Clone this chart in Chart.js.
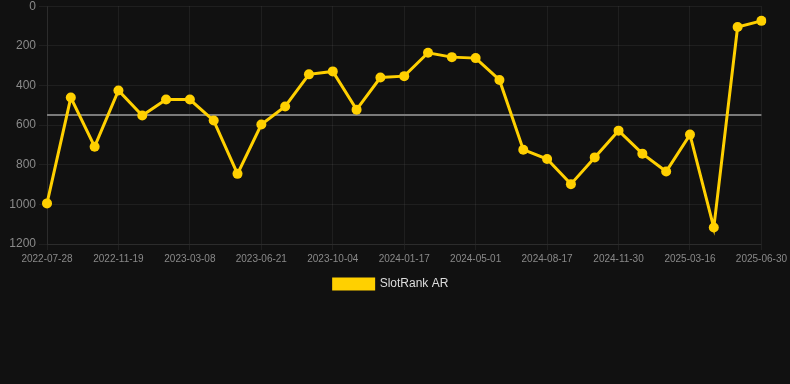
<!DOCTYPE html>
<html>
<head>
<meta charset="utf-8">
<script src="https://cdn.jsdelivr.net/npm/chart.js@4"></script>
<style>
  html, body { margin: 0; padding: 0; background: #111111; overflow: hidden; }
  #wrap { width: 790px; height: 304px; position: relative; margin-top: -4px; }
</style>
</head>
<body>
<div id="wrap"><canvas id="myChart"></canvas></div>
<script>
const dates = [
    "2022-07-28", "2022-09-05", "2022-10-12", "2022-11-19", "2022-12-25", "2023-01-31",
    "2023-03-08", "2023-04-12", "2023-05-17", "2023-06-21", "2023-07-26", "2023-08-30",
    "2023-10-04", "2023-11-08", "2023-12-13", "2024-01-17", "2024-02-21", "2024-03-27",
    "2024-05-01", "2024-06-06", "2024-07-12", "2024-08-17", "2024-09-21", "2024-10-26",
    "2024-11-30", "2025-01-04", "2025-02-09", "2025-03-16", "2025-04-20", "2025-05-25",
    "2025-06-30"
];
const rankValues = [
    995, 461, 709, 425, 552, 471, 471, 577, 846, 597,
    506, 344, 329, 522, 360, 353, 235, 257, 262, 372,
    724, 771, 898, 763, 628, 744, 834, 648, 1117, 105,
    74
];
const averageRank = 549;
const yTicks = [0, 200, 400, 600, 800, 1000, 1200];

const tickColor = '#8a8a8a';
const gridColor = 'rgba(255, 255, 255, 0.06)';

function showRankChart() {
    const ctx = document.getElementById('myChart').getContext('2d');
    new Chart(ctx, {
        type: 'line',
        data: {
            labels: dates,
            datasets: [{
                label: 'SlotRank AR',
                data: rankValues,
                borderColor: '#FFD000',
                backgroundColor: '#FFD000',
                borderWidth: 3,
                pointRadius: 5,
                pointBorderWidth: 0,
                pointBackgroundColor: '#FFD000',
                tension: 0
            }, {
                label: 'Average',
                data: dates.map(() => averageRank), // flat average line
                borderColor: '#7a7a7a',
                borderWidth: 2,
                pointRadius: 0,
                tension: 0
            }]
        },
        options: {
            responsive: true,
            maintainAspectRatio: false,
            animation: false,
            layout: {
                padding: { left: 0, right: 8, top: 0, bottom: 0 }
            },
            scales: {
                x: {
                    offset: false,
                    grid: {
                        tickLength: 6,
                        // only every third category gets a grid line
                        color: c => (c.index % 3 === 0 ? gridColor : 'rgba(0,0,0,0)')
                    },
                    border: { color: gridColor },
                    ticks: {
                        autoSkip: false,
                        maxRotation: 0,
                        color: tickColor,
                        font: { size: 10, family: 'Liberation Sans, Arial, sans-serif' },
                        callback: function (value, index) {
                            return index % 3 === 0 ? dates[index] : '';
                        }
                    }
                },
                y: {
                    reverse: true,
                    min: yTicks[0],
                    max: yTicks[yTicks.length - 1],
                    grid: { color: gridColor },
                    border: { color: gridColor },
                    afterBuildTicks: function (axis) {
                        axis.ticks = yTicks.map(v => ({ value: v }));
                    },
                    afterFit: function (axis) {
                        axis.width = 47;
                    },
                    ticks: {
                        color: tickColor,
                        font: { size: 12, family: 'Liberation Sans, Arial, sans-serif' },
                        callback: v => String(v)
                    }
                }
            },
            plugins: {
                legend: {
                    position: 'bottom',
                    labels: {
                        color: '#dddddd',
                        boxWidth: 40,
                        boxHeight: 10,
                        font: { size: 12, family: 'Liberation Sans, Arial, sans-serif' },
                        filter: item => item.text === 'SlotRank AR'
                    }
                },
                tooltip: { enabled: false }
            }
        }
    });
}

showRankChart();
</script>
</body>
</html>
